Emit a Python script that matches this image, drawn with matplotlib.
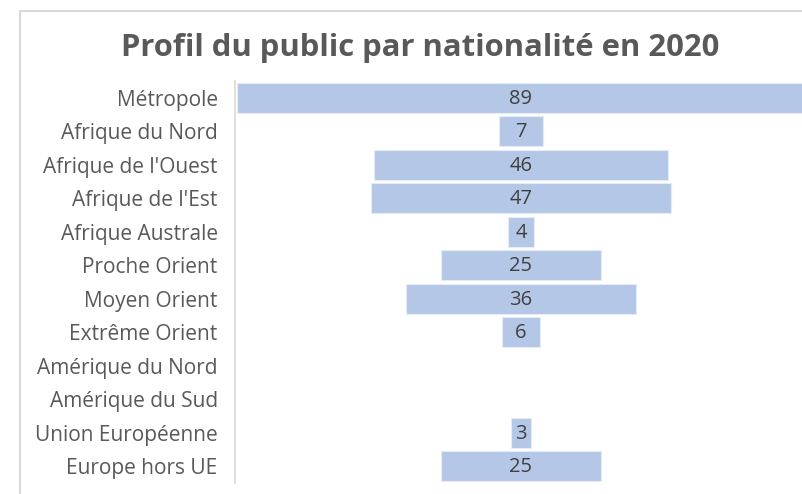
import matplotlib
matplotlib.use("Agg")
import matplotlib.pyplot as plt
from matplotlib.lines import Line2D

categories = ["Métropole", "Afrique du Nord", "Afrique de l'Ouest", "Afrique de l'Est",
              "Afrique Australe", "Proche Orient", "Moyen Orient", "Extrême Orient",
              "Amérique du Nord", "Amérique du Sud", "Union Européenne", "Europe hors UE"]
values = [89, 7, 46, 47, 4, 25, 36, 6, 0, 0, 3, 25]

W, H = 802, 494
fig = plt.figure(figsize=(W / 100, H / 100), dpi=100)
fig.patch.set_facecolor("white")

# chart border (cropped, only left and top edges visible)
fig.add_artist(Line2D([20 / W, 20 / W, 1.0], [0.0, 1 - 11 / H, 1 - 11 / H],
                      transform=fig.transFigure, color="#d9d9d9", lw=1.5))

ax = fig.add_axes([235 / W, 1 - 483 / H, (807 - 235) / W, (483 - 81) / H])
half = 44.75
ax.set_xlim(-half, half)
ax.set_ylim(len(categories) - 0.5, -0.5)

ypos = list(range(len(categories)))
shown = [(y, v) for y, v in zip(ypos, values) if v > 0]
ax.barh([y for y, v in shown], [v for y, v in shown],
        left=[-v / 2 for y, v in shown], height=0.9, color="#b4c7e7",
        edgecolor="#e6ecf7", linewidth=0.8)

for y, v in shown:
    ax.text(0, y + 0.03, str(v), ha="center", va="center", fontsize=14.5,
            color="#404040", family="Open Sans")

ax.set_yticks(ypos)
ax.set_yticklabels(categories, fontsize=15, color="#595959", family="Open Sans")
ax.tick_params(axis="y", length=0, pad=12.5)
ax.set_xticks([])
for s in ["top", "right", "bottom"]:
    ax.spines[s].set_visible(False)
ax.spines["left"].set_color("#d9d9d9")
ax.spines["left"].set_linewidth(1.2)

fig.text(420 / W, 1 - 48 / H, "Profil du public par nationalité en 2020",
         ha="center", va="center", fontsize=22.3, fontweight="bold",
         color="#595959", family="Open Sans")

fig.savefig("out.png", dpi=100)
